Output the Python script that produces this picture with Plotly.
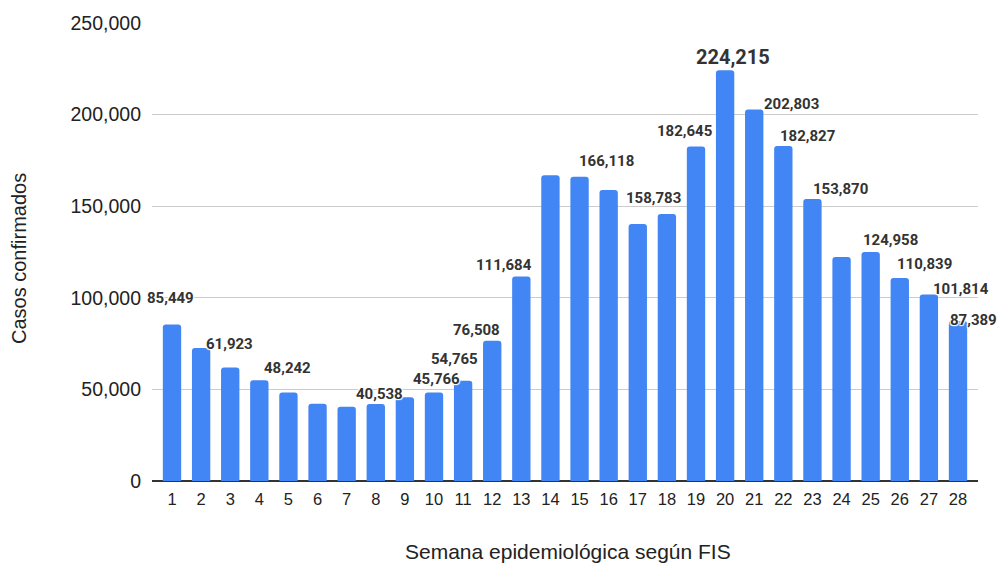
import plotly.graph_objects as go

# Confirmed cases per epidemiological week (by symptom-onset date)
weeks = list(range(1, 29))
cases = [85449, 72600, 61923, 55000, 48242, 42200, 40538, 42000, 45766, 48300,
         54765, 76508, 111684, 166900, 166118, 158783, 140300, 145700, 182645, 224215,
         202803, 182827, 153870, 122300, 124958, 110839, 101814, 87389]

# Weeks whose value is printed above the bar
labeled_weeks = [1, 3, 5, 7, 9, 11, 12, 13, 15, 16, 19, 20, 21, 22, 23, 25, 26, 27, 28]

y_ticks = [0, 50000, 100000, 150000, 200000, 250000]

# Pixel nudges that keep neighbouring value labels from colliding
label_dx = [-2, -1, -1, 33, 32, -9, -16, -17, 27, 45, -12, 8, 37, 24, 28, 20, 25, 32, 15]
label_dy = [26, 24, 25, 13, 18, 22, 11, 11, 16, -8, 15, 13, 5, 10, 10, 12, 14, 5, 1]

BAR_BLUE = "#4285F4"
AXIS_FONT = "Liberation Sans, Arial, sans-serif"
LABEL_FONT = "Roboto, Arial, sans-serif"
HALO = "1px 1px 1px #fff, -1px -1px 1px #fff, 1px -1px 1px #fff, -1px 1px 1px #fff"

fig = go.Figure(
    go.Bar(
        x=weeks,
        y=cases,
        width=0.63,
        marker=dict(color=BAR_BLUE, line=dict(width=0)),
        hovertemplate="Semana %{x}: %{y:,}<extra></extra>",
    )
)

peak = max(cases)
annotations = []
for wk, dx, dy in zip(labeled_weeks, label_dx, label_dy):
    v = cases[weeks.index(wk)]
    annotations.append(dict(
        x=wk, y=v, xref="x", yref="y",
        text=f"{v:,}",
        showarrow=False,
        xanchor="center", yanchor="middle",
        xshift=dx, yshift=dy,
        font=dict(family=LABEL_FONT, size=20 if v == peak else 15,
                  color="#333333", weight="bold", shadow=HALO),
    ))

# Axis titles
annotations.append(dict(
    text="Semana epidemiológica según FIS", xref="paper", yref="paper",
    x=0.5, y=0, xanchor="center", yanchor="middle", xshift=3, yshift=-70,
    showarrow=False, font=dict(family=AXIS_FONT, size=21, color="#222222"),
))
annotations.append(dict(
    text="Casos confirmados", xref="paper", yref="paper",
    x=0, y=0.5, xanchor="center", yanchor="middle", xshift=-133, yshift=-7,
    textangle=-90, showarrow=False,
    font=dict(family=AXIS_FONT, size=20, color="#222222"),
))

fig.update_layout(
    width=1000, height=566,
    margin=dict(l=152, r=22, t=16, b=85),
    paper_bgcolor="white", plot_bgcolor="white",
    showlegend=False,
    barcornerradius=3,
    annotations=annotations,
    xaxis=dict(
        range=[0.313, 28.687],
        tickmode="array", tickvals=weeks, ticktext=[str(w) for w in weeks],
        showgrid=False, zeroline=False, showline=False, ticks="",
        ticklabelstandoff=6,
        tickfont=dict(family=AXIS_FONT, size=16.5, color="#222222"),
    ),
    yaxis=dict(
        range=[0, 250000],
        tickmode="array", tickvals=y_ticks, ticktext=[f"{t:,}" for t in y_ticks],
        showgrid=True, gridcolor="#cccccc", gridwidth=1,
        zeroline=True, zerolinecolor="#333333", zerolinewidth=2,
        showline=False, ticks="",
        ticklabelstandoff=10,
        tickfont=dict(family=AXIS_FONT, size=19.5, color="#222222"),
    ),
)

fig.write_html("out.html")
